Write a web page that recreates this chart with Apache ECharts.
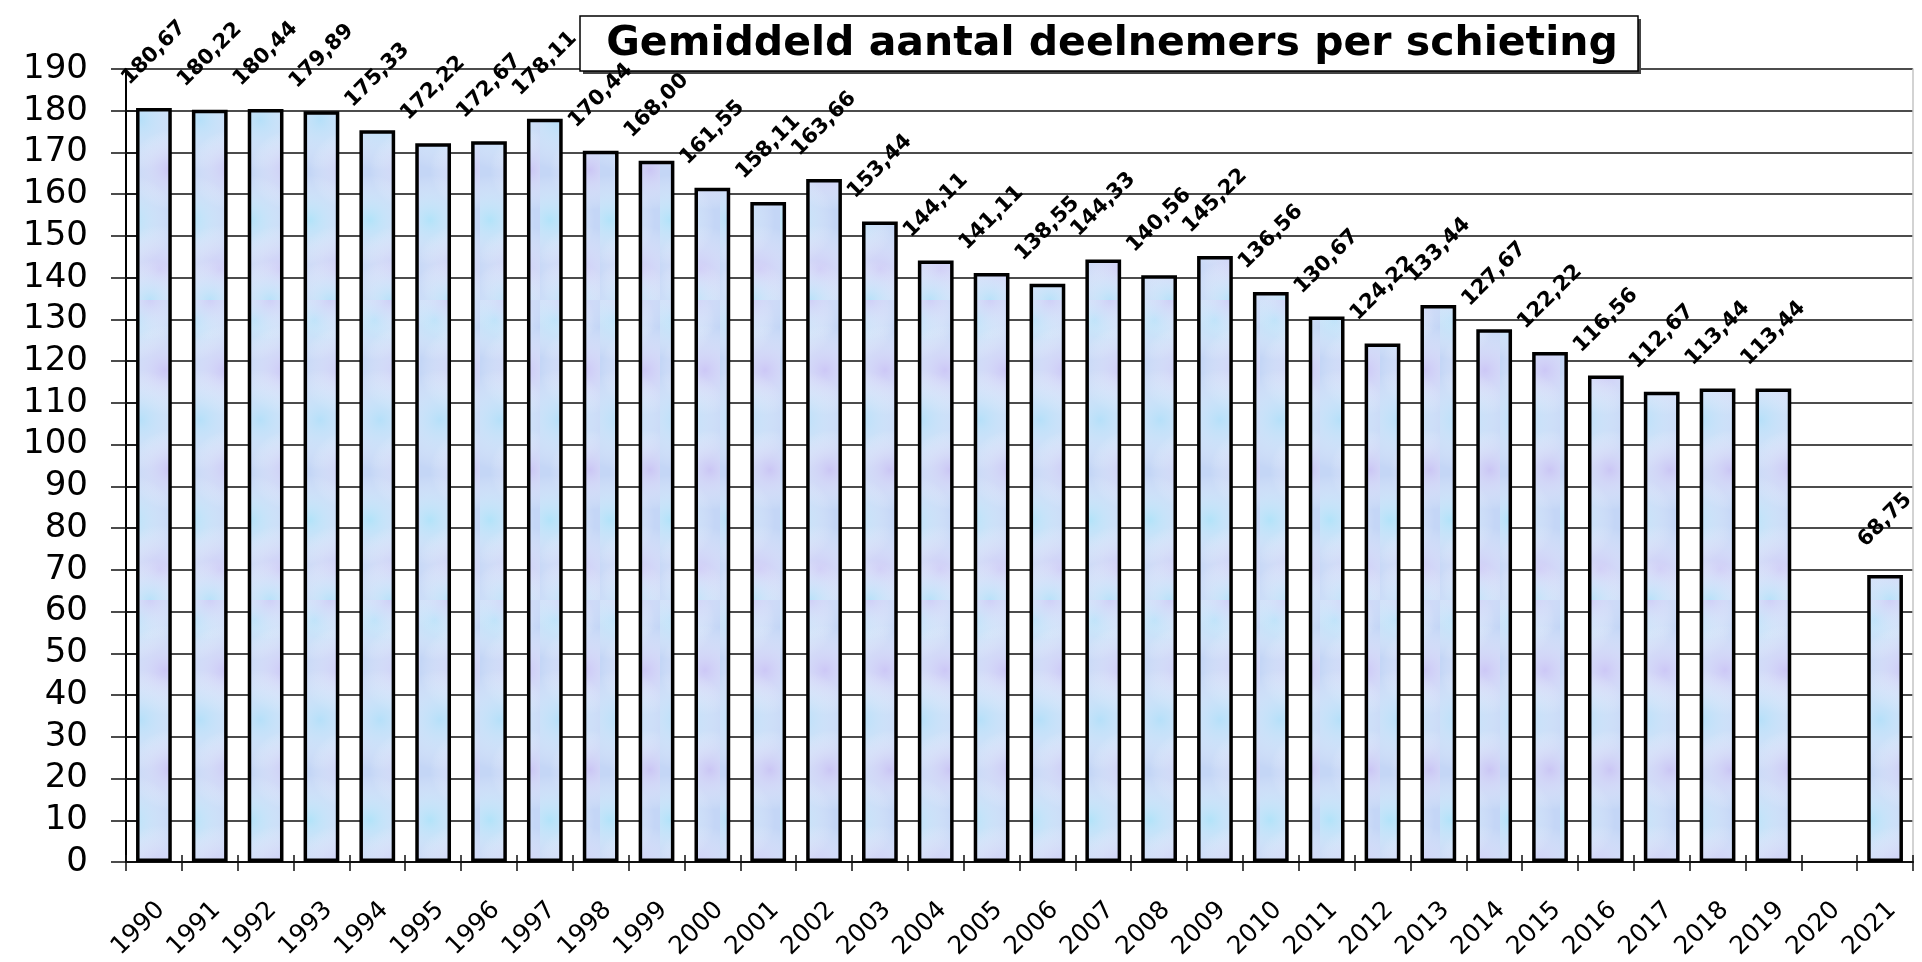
<!DOCTYPE html>
<html>
<head>
<meta charset="utf-8">
<script src="https://cdn.jsdelivr.net/npm/echarts@6/dist/echarts.min.js"></script>
<style>
html,body{margin:0;padding:0;background:#fff;}
#chart{width:1922px;height:962px;}
</style>
</head>
<body>
<div id="chart"></div>
<script>
// ---- data ----
const titleText = 'Gemiddeld aantal deelnemers per schieting';
const years = ['1990','1991','1992','1993','1994','1995','1996','1997','1998','1999',
  '2000','2001','2002','2003','2004','2005','2006','2007','2008','2009',
  '2010','2011','2012','2013','2014','2015','2016','2017','2018','2019','2020','2021'];
const deelnemers = [180.67,180.22,180.44,179.89,175.33,172.22,172.67,178.11,170.44,168.00,
  161.55,158.11,163.66,153.44,144.11,141.11,138.55,144.33,140.56,145.22,
  136.56,130.67,124.22,133.44,127.67,122.22,116.56,112.67,113.44,113.44,null,68.75];
const yMin = 0, yMax = 190, yStep = 10;

// ---- bar texture (style only) ----
function makeTexture(){
  const c = document.createElement('canvas');
  c.width = 60; c.height = 300;
  const g = c.getContext('2d');
  g.fillStyle = '#c4d6f6';
  g.fillRect(0,0,60,300);
  const blobs = [
    [15,20,40,'rgba(176,228,250,0.8)'],[45,70,45,'rgba(206,196,246,0.8)'],
    [20,120,50,'rgba(178,226,250,0.8)'],[50,170,40,'rgba(204,194,244,0.8)'],
    [10,220,45,'rgba(174,230,250,0.8)'],[40,270,45,'rgba(208,198,246,0.75)'],
    [30,300,40,'rgba(176,228,250,0.7)'],[30,0,40,'rgba(208,198,246,0.6)']
  ];
  blobs.forEach(b=>{
    const r = g.createRadialGradient(b[0],b[1],0,b[0],b[1],b[2]);
    r.addColorStop(0,b[3]); r.addColorStop(1,'rgba(255,255,255,0)');
    g.fillStyle = r; g.fillRect(0,0,60,300);
  });
  return c;
}
const texture = makeTexture();

const chart = echarts.init(document.getElementById('chart'), null, {renderer:'canvas'});
const tickStyle = {color:'#111', width:1.5};
const option = {
  animation:false,
  backgroundColor:'#fff',
  grid:[
    {left:126, right:9, top:69, bottom:100},
    {left:133, right:2, top:69, bottom:100}
  ],
  xAxis:[
    {type:'category', data:years, gridIndex:0, position:'bottom',
     axisLine:{lineStyle:{color:'#111', width:2}},
     axisTick:{show:true, length:9, lineStyle:tickStyle},
     axisLabel:{show:false}, splitLine:{show:false}},
    {type:'category', data:years, gridIndex:0, position:'bottom', offset:0,
     axisLine:{show:false},
     axisTick:{show:true, inside:true, length:7, lineStyle:tickStyle},
     axisLabel:{show:false}, splitLine:{show:false}},
    {type:'category', data:years, gridIndex:1, position:'bottom',
     axisLine:{show:false}, axisTick:{show:false},
     axisLabel:{show:true, interval:0, rotate:45, margin:46,
       fontFamily:'DejaVu Sans', fontSize:25, color:'#000'},
     splitLine:{show:false}}
  ],
  yAxis:[
    {type:'value', gridIndex:0, min:yMin, max:yMax, interval:yStep,
     axisLine:{show:true, lineStyle:{color:'#000', width:2}},
     axisTick:{show:true, length:15, lineStyle:tickStyle},
     axisLabel:{margin:38, fontFamily:'DejaVu Sans', fontSize:34, color:'#000'},
     splitLine:{show:true, lineStyle:{color:'#111', width:1.6}}},
    {type:'value', gridIndex:0, position:'left', min:yMin, max:yMax, interval:yStep,
     axisLine:{show:false}, axisTick:{show:true, inside:true, length:11, lineStyle:tickStyle},
     axisLabel:{show:false}, splitLine:{show:false}},
    {type:'value', gridIndex:0, position:'right', min:yMin, max:yMax, interval:yStep,
     axisLine:{show:true, lineStyle:{color:'#c4c4c4', width:1.5}}, axisTick:{show:false},
     axisLabel:{show:false}, splitLine:{show:false}},
    {type:'value', gridIndex:1, min:yMin, max:yMax, show:false}
  ],
  series:[{
    type:'bar', xAxisIndex:0, yAxisIndex:0, data:deelnemers, z:3,
    barCategoryGap:'36%',
    itemStyle:{color:{image:texture, repeat:'repeat'}, borderColor:'#000', borderWidth:3.5},
    label:{show:true, position:'top', distance:55, rotate:45, align:'center', verticalAlign:'middle',
      fontFamily:'DejaVu Sans', fontWeight:'bold', fontSize:21, color:'#000',
      formatter:p => p.value == null ? '' : p.value.toFixed(2).replace('.', ',')}
  }],
  graphic:[
    {type:'rect', z:1, shape:{x:583, y:19, width:1058, height:55}, style:{fill:'#444', stroke:null}},
    {type:'rect', z:1, shape:{x:580, y:16, width:1058, height:55}, style:{fill:'#fff', stroke:'#000', lineWidth:1.5}},
    {type:'text', z:100, x:1112, y:44, style:{text:titleText, font:'bold 41px "DejaVu Sans"', fill:'#000', align:'center', verticalAlign:'middle'}}
  ]
};
chart.setOption(option);
</script>
</body>
</html>
